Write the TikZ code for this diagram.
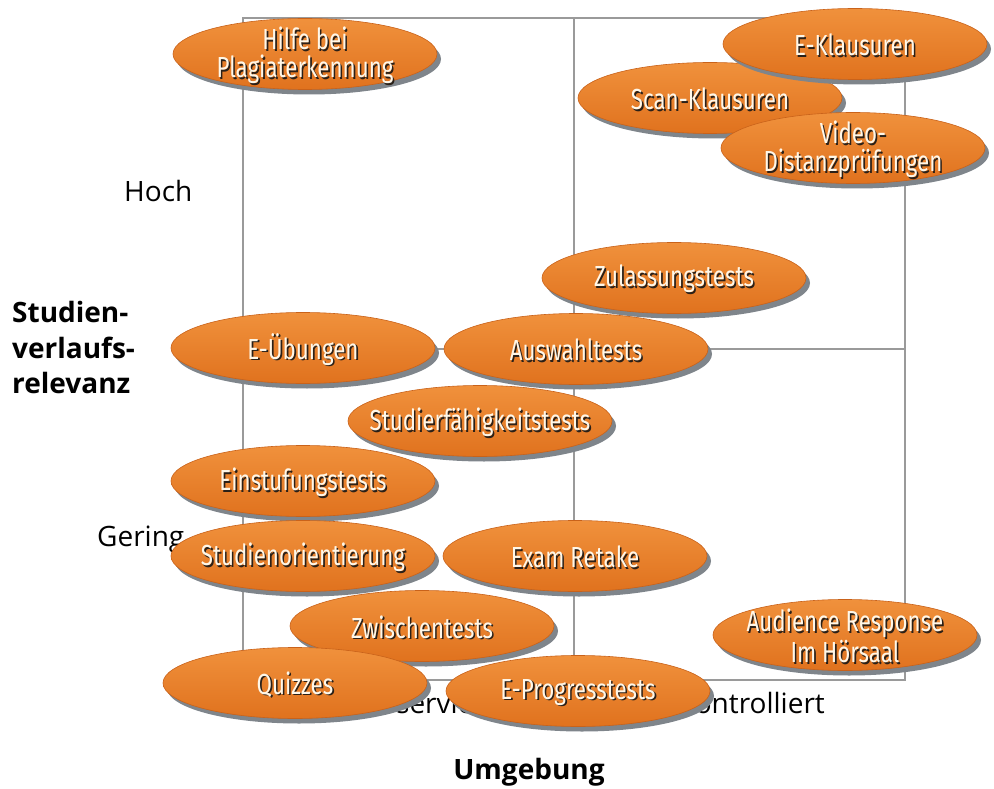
\documentclass[tikz,border=0pt]{standalone}
\usepackage{fontspec}
\setmainfont{Open Sans}
\newfontfamily\condfont[FakeStretch=0.77]{Fira Sans}
\usetikzlibrary{shapes.geometric,shadows}
\definecolor{orangetop}{HTML}{F0913C}
\definecolor{orangebot}{HTML}{E0721E}
\definecolor{orangeedge}{HTML}{C9621A}
\definecolor{shadowgray}{HTML}{7F858B}
\definecolor{gridgray}{HTML}{9A9A9A}
\definecolor{txtlight}{HTML}{FFF7E8}
\definecolor{txtdark}{HTML}{2A2018}
\newcommand\shtext[1]{\makebox[0pt][l]{\hspace{1.6pt}\raisebox{-1.6pt}{\color{txtdark}#1}}#1}
\tikzset{
  bubble/.style={ellipse, minimum width=264pt, minimum height=71pt, inner sep=0pt,
    top color=orangetop, bottom color=orangebot, draw=orangeedge, line width=0.6pt,
    general shadow={fill=shadowgray, shadow xshift=4pt, shadow yshift=-5pt}},
  btxt/.style={text=txtlight, font=\condfont\fontsize{29}{28}\selectfont, align=center,
    inner sep=0pt, yshift=-2pt},
  axislabel/.style={font=\fontsize{28}{35}\selectfont, text=black, inner sep=0pt},
  axistitle/.style={font=\bfseries\fontsize{28}{35}\selectfont, text=black, inner sep=0pt, align=left},
  gridline/.style={draw=gridgray, line width=1.3pt}
}
\newcommand\bubble[4]{%
  \node[bubble, label={[btxt]center:#4}] (#1) at (#2,#3) {};}
\begin{document}
\begin{tikzpicture}[x=1pt,y=-1pt]
\useasboundingbox[fill=white] (0,0) rectangle (994,789);
% grid
\coordinate (tl) at (243,18);
\coordinate (tr) at (905,18);
\coordinate (bl) at (243,680);
\coordinate (br) at (905,680);
\coordinate (tm) at (574,18);
\coordinate (bm) at (574,680);
\coordinate (ml) at (243,349);
\coordinate (mr) at (905,349);
\draw[gridline] (tl) -- (tr) -- (br) -- (bl) -- cycle;
\draw[gridline] (tm) -- (bm);
\draw[gridline] (ml) -- (mr);
% axis labels
\node[axislabel, anchor=base west] (hoch) at (124,201) {Hoch};
\node[axislabel, anchor=base west] (gering) at (97,546) {Gering};
\node[axistitle, anchor=base west] (st1) at (12,322) {Studien-};
\node[axistitle, anchor=base west] (st2) at (12,358) {verlaufs-};
\node[axistitle, anchor=base west] (st3) at (12,393) {relevanz};
\node[axistitle, anchor=base] (umg) at (529,779) {Umgebung};
\node[axislabel, anchor=base west] (obs) at (357,713) {Observiert};
\node[axislabel, anchor=base east] (unk) at (825,713) {Unkontrolliert};
% bubbles
\bubble{b1}{305}{54}{\shtext{Hilfe bei}\\\shtext{Plagiaterkennung}}
\bubble{b3}{710}{98}{\shtext{Scan-Klausuren}}
\bubble{b2}{855}{44}{\shtext{E-Klausuren}}
\bubble{b4}{853}{148}{\shtext{Video-}\\\shtext{Distanzprüfungen}}
\bubble{b5}{674}{278}{\shtext{Zulassungstests}}
\bubble{b6}{303}{348}{\shtext{E-Übungen}}
\bubble{b7}{576}{349}{\shtext{Auswahltests}}
\bubble{b8}{480}{421}{\shtext{Studierfähigkeitstests}}
\bubble{b9}{303}{481}{\shtext{Einstufungstests}}
\bubble{b10}{303}{556}{\shtext{Studienorientierung}}
\bubble{b11}{575}{556}{\shtext{Exam Retake}}
\bubble{b12}{422}{626}{\shtext{Zwischentests}}
\bubble{b13}{845}{635}{\shtext{Audience Response}\\\shtext{Im Hörsaal}}
\bubble{b14}{295}{683}{\shtext{Quizzes}}
\bubble{b15}{578}{691}{\shtext{E-Progresstests}}
\end{tikzpicture}
\end{document}
